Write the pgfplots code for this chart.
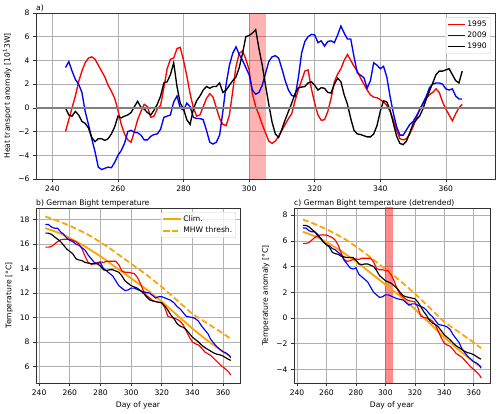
\documentclass[border=0pt]{standalone}
\usepackage{fontspec}
\setmainfont{DejaVu Sans}
\usepackage{pgfplots}
\pgfplotsset{compat=1.18}
\usepackage{pgfplotstable}
\definecolor{mplorange}{RGB}{255,165,0}
\definecolor{gridc}{RGB}{176,176,176}
\definecolor{spine}{RGB}{50,50,50}
\definecolor{zeroc}{RGB}{128,128,128}

\pgfplotstableread{
d r b k
244 -2.0 3.4 0.0
245 -1.0 3.9 -0.6
246 0.0 3.1 -0.7
247 1.0 2.4 -0.3
248 2.2 2.0 -0.6
249 3.1 1.3 -1.15
250 3.8 -0.3 -1.3
251 4.2 -1.4 -1.7
252 4.3 -2.6 -2.5
253 4.1 -3.7 -2.85
254 3.6 -5.0 -2.6
255 3.1 -5.2 -2.6
256 2.6 -5.1 -2.75
257 1.9 -5.0 -2.6
258 1.4 -5.05 -2.2
259 0.8 -4.6 -1.6
260 -0.2 -4.0 -0.7
261 -1.4 -3.6 -0.85
262 -2.2 -3.0 -0.7
263 -2.7 -2.0 -0.6
264 -2.9 -1.9 -0.4
265 -2.0 -2.05 0.1
266 -1.0 -2.1 0.55
267 -0.3 -2.3 0.05
268 0.3 -2.7 -0.1
269 0.1 -2.7 -0.4
270 -0.8 -2.4 -0.6
271 -0.7 -2.25 -0.2
272 -0.1 -2.2 0.3
273 0.2 -1.8 1.0
274 1.7 -0.8 2.1
275 3.3 -0.7 2.2
276 4.1 -0.6 2.8
277 4.2 0.5 3.8
278 5.0 1.0 1.8
279 5.1 0.0 0.4
280 4.0 -0.2 -0.1
281 2.7 0.4 -1.0
282 1.2 0.1 -1.4
283 0.0 -0.8 -0.1
284 -0.7 -0.9 0.6
285 -0.6 -0.9 1.0
286 0.1 -1.0 1.5
287 0.8 -1.9 1.8
288 1.2 -2.9 1.65
289 0.9 -3.05 1.8
290 0.0 -2.9 1.8
291 -0.9 -2.3 2.1
292 -1.4 -0.3 1.3
293 -1.5 2.0 1.5
294 -0.6 3.6 1.9
295 1.4 4.6 2.3
296 3.5 5.15 2.6
297 4.6 4.5 3.4
298 4.8 4.0 4.6
299 4.1 3.4 6.0
300 3.2 2.8 6.1
301 1.2 1.5 6.3
302 0.1 1.15 6.6
303 -0.6 1.3 5.0
304 -1.4 1.9 3.6
305 -2.1 2.9 1.9
306 -2.8 3.9 0.3
307 -3.0 4.3 -1.2
308 -2.8 4.4 -2.2
309 -2.4 4.2 -2.5
310 -1.9 3.3 -1.8
311 -1.4 2.3 -1.0
312 -0.9 1.5 -0.3
313 -0.5 1.05 0.4
314 0.6 0.95 1.2
315 1.5 2.5 1.7
316 2.3 4.6 1.75
317 3.1 5.6 1.8
318 3.2 6.0 2.1
319 1.6 6.2 2.2
320 0.4 6.15 1.9
321 -0.6 5.5 1.5
322 -1.05 5.65 1.7
323 -1.0 5.2 1.65
324 -0.3 5.6 1.3
325 0.8 5.65 1.25
326 2.2 5.5 2.0
327 2.85 6.15 2.5
328 3.3 6.9 2.2
329 4.0 6.3 1.1
330 4.5 5.8 0.3
331 4.0 5.8 -0.9
332 3.5 4.3 -1.9
333 3.1 2.95 -2.2
334 2.5 2.75 -2.25
335 2.0 2.55 -2.35
336 1.5 1.65 -2.45
337 1.1 2.3 -2.45
338 0.9 3.8 -2.2
339 0.85 3.6 -1.5
340 0.7 3.3 -0.3
341 0.5 3.5 0.6
342 0.2 2.6 0.5
343 -0.3 0.95 -0.2
344 -1.0 -0.45 -1.3
345 -1.9 -1.6 -2.4
346 -2.6 -2.3 -3.0
347 -2.7 -2.3 -3.1
348 -2.6 -1.85 -2.8
349 -2.2 -1.4 -2.1
350 -1.6 -1.15 -1.35
351 -0.9 -0.7 -1.0
352 -0.1 -0.2 -0.7
353 0.3 0.4 -0.1
354 0.8 0.95 0.7
355 1.1 1.7 1.4
356 1.3 2.0 2.1
357 1.6 2.1 2.8
358 1.3 2.1 3.1
359 0.5 2.0 3.1
360 -0.1 1.6 3.2
361 -0.6 1.5 3.3
362 -1.1 1.6 2.8
363 -0.5 1.0 2.3
364 0.0 0.75 2.1
365 0.3 0.75 3.1
}\heat

\pgfplotstableread{
d r b k
244 15.75 17.6 16.9
246 15.75 17.6 16.9
248 15.8 17.4 16.8
250 16.0 17.3 16.6
252 16.2 17.3 16.4
254 16.35 17.0 16.2
256 16.4 16.8 15.9
258 16.4 16.5 15.6
260 16.4 16.3 15.4
262 16.3 16.2 15.2
264 16.2 16.0 14.8
266 16.0 15.9 14.7
268 15.6 15.7 14.65
270 15.0 15.5 14.5
272 14.5 15.1 14.45
274 14.35 14.8 14.4
276 14.4 14.5 14.4
278 14.5 14.4 14.4
280 14.55 14.5 14.2
282 14.5 14.0 13.9
284 14.6 13.8 13.85
286 14.6 13.6 13.9
288 14.6 13.4 13.9
290 14.6 13.0 13.8
292 14.3 12.6 13.7
294 13.8 12.4 13.4
296 13.7 12.2 13.0
298 13.7 12.25 12.8
300 13.65 12.4 12.6
302 13.6 12.4 12.5
304 13.3 12.3 12.4
306 12.8 12.2 12.2
308 12.2 12.1 12.0
310 11.8 12.05 11.7
312 11.6 12.0 11.45
314 11.4 11.8 11.35
316 11.3 11.6 11.3
318 11.25 11.7 11.25
320 11.2 11.7 11.2
322 10.8 11.6 10.95
324 10.1 11.5 10.6
326 10.0 11.4 10.2
328 9.95 11.2 9.9
330 9.85 10.9 9.5
332 9.7 10.7 9.3
334 9.4 10.4 9.2
336 8.9 10.1 9.0
338 8.4 10.05 8.7
340 8.0 10.0 8.4
342 7.85 9.9 8.2
344 7.75 9.7 8.0
346 7.5 9.3 7.75
348 7.2 9.0 7.55
350 7.05 8.7 7.4
352 6.9 8.2 7.25
354 6.65 7.9 7.1
356 6.4 7.6 7.0
358 6.15 7.4 6.95
360 5.95 7.2 6.85
362 5.75 7.1 6.7
364 5.5 6.9 6.55
365 5.3 6.7 6.5
}\tempb

\pgfplotstableread{
d r b k
244 5.80 7.00 7.20
246 5.80 7.00 7.20
248 5.85 6.80 7.10
250 6.05 6.70 6.90
252 6.25 6.70 6.70
254 6.40 6.40 6.50
256 6.45 6.20 6.20
258 6.45 5.90 5.90
260 6.45 5.70 5.70
262 6.35 5.60 5.50
264 6.25 5.40 5.10
266 6.05 5.30 5.00
268 5.65 5.10 4.95
270 5.05 4.90 4.80
272 4.55 4.50 4.75
274 4.40 4.20 4.70
276 4.45 3.90 4.70
278 4.55 3.80 4.70
280 4.60 3.90 4.50
282 4.55 3.40 4.20
284 4.65 3.20 4.15
286 4.65 3.00 4.20
288 4.65 2.80 4.20
290 4.65 2.40 4.10
292 4.35 2.00 4.00
294 3.85 1.80 3.70
296 3.75 1.60 3.30
298 3.75 1.65 3.10
300 3.70 1.80 2.90
302 3.65 1.80 2.80
304 3.35 1.70 2.70
306 2.85 1.60 2.50
308 2.25 1.50 2.30
310 1.85 1.45 2.00
312 1.65 1.40 1.75
314 1.45 1.20 1.65
316 1.35 1.00 1.60
318 1.30 1.10 1.55
320 1.25 1.10 1.50
322 0.85 1.00 1.25
324 0.15 0.90 0.90
326 0.05 0.80 0.50
328 0.00 0.60 0.20
330 -0.10 0.30 -0.20
332 -0.25 0.10 -0.40
334 -0.55 -0.20 -0.50
336 -1.05 -0.50 -0.70
338 -1.55 -0.55 -1.00
340 -1.95 -0.60 -1.30
342 -2.10 -0.70 -1.50
344 -2.20 -0.90 -1.70
346 -2.45 -1.30 -1.95
348 -2.75 -1.60 -2.15
350 -2.90 -1.90 -2.30
352 -3.05 -2.40 -2.45
354 -3.30 -2.70 -2.60
356 -3.55 -3.00 -2.70
358 -3.80 -3.20 -2.75
360 -4.00 -3.40 -2.85
362 -4.20 -3.50 -3.00
364 -4.45 -3.70 -3.15
365 -4.65 -3.90 -3.20
}\tempc

\pgfplotstableread{
d clim thr climc thrc
244 17.3 18.25 6.7 7.65
250 17.05 18.0 6.45 7.4
255 16.8 17.75 6.2 7.15
260 16.5 17.5 5.9 6.9
265 16.15 17.2 5.55 6.6
270 15.8 16.9 5.2 6.3
275 15.4 16.55 4.8 5.95
280 15.0 16.15 4.4 5.55
285 14.55 15.75 3.95 5.15
290 14.1 15.3 3.5 4.7
295 13.65 14.85 3.05 4.25
300 13.2 14.4 2.6 3.8
305 12.75 13.95 2.15 3.35
310 12.3 13.5 1.7 2.9
315 11.8 13.0 1.2 2.4
320 11.3 12.5 0.7 1.9
325 10.75 11.95 0.15 1.35
330 10.2 11.4 -0.4 0.8
335 9.65 10.85 -0.95 0.25
340 9.1 10.3 -1.5 -0.3
345 8.6 9.9 -2.0 -0.7
350 8.1 9.5 -2.5 -1.1
355 7.65 9.1 -2.95 -1.5
360 7.2 8.7 -3.4 -1.9
365 6.8 8.25 -3.8 -2.35
}\climtab

\newcommand{\fs}{\fontsize{7.6}{9}\selectfont}
\pgfplotsset{
  mystyle/.style={
    scale only axis,
    anchor=south west,
    font=\fs,
    tick label style={font=\fs},
    label style={font=\fs},
    /pgf/number format/assume math mode=true,
    axis line style={spine, line width=0.7pt},
    tick style={spine, line width=0.6pt},
    tick align=outside,
    major tick length=3pt,
    xtick pos=lower, ytick pos=left,
    grid=major,
    major grid style={gridc, line width=0.6pt},
    title style={at={(0,1)}, anchor=south west, inner sep=0pt, yshift=-5pt, font=\fs},
    legend style={draw=gray!35, rounded corners=1.5pt, fill=white, fill opacity=0.8, text opacity=1, draw opacity=1, font=\fs, inner sep=1.5pt},
    legend cell align=left,
    xtick={240,260,...,360},
  }
}

\begin{document}
\begin{tikzpicture}[x=1pt,y=1pt]
\path[use as bounding box] (0,0) rectangle (500,414);

\begin{axis}[mystyle, at={(36pt,235pt)}, width=459pt, height=166pt,
  xmin=235, xmax=375, ymin=-6, ymax=8,
  ytick={-6,-4,...,8}, yticklabels={−6,−4,−2,0,2,4,6,8},
  ylabel={Heat transport anomaly [10\textsuperscript{1}3W]},
  title={a)},
  legend style={at={(0.99,0.975)}, anchor=north east}]
\addplot[draw=none, fill=red, fill opacity=0.3, forget plot] coordinates {(300,-6) (300,8) (305,8) (305,-6)} -- cycle;
\addplot[red, line width=1.35pt] table[x=d, y=r] {\heat};
\addplot[blue, line width=1.35pt] table[x=d, y=b] {\heat};
\addplot[black, line width=1.35pt] table[x=d, y=k] {\heat};
\addplot[zeroc, line width=1.8pt, forget plot] coordinates {(230,0) (380,0)};
\legend{1995,2009,1990}
\end{axis}

\begin{axis}[mystyle, at={(36pt,31pt)}, width=204pt, height=175pt,
  xmin=237.95, xmax=371.05, ymin=4.65, ymax=18.95,
  ytick={6,8,...,18},
  xlabel={Day of year}, ylabel={Temperature [°C]},
  title={b) German Bight temperature},
  legend style={at={(0.98,0.977)}, anchor=north east}]
\addplot[mplorange, line width=1.8pt, smooth] table[x=d, y=clim] {\climtab};
\addplot[mplorange, line width=1.8pt, smooth, dash pattern=on 6pt off 3pt] table[x=d, y=thr] {\climtab};
\addplot[red, line width=1.15pt, forget plot] table[x=d, y=r] {\tempb};
\addplot[blue, line width=1.15pt, forget plot] table[x=d, y=b] {\tempb};
\addplot[black, line width=1.15pt, forget plot] table[x=d, y=k] {\tempb};
\legend{Clim.,MHW thresh.}
\end{axis}

\begin{axis}[mystyle, at={(294pt,31pt)}, width=196pt, height=175pt,
  xmin=237.95, xmax=371.05, ymin=-5.05, ymax=8.55,
  ytick={-4,-2,...,8}, yticklabels={−4,−2,0,2,4,6,8},
  xlabel={Day of year}, ylabel={Temperature anomaly [°C]},
  title={c) German Bight temperature (detrended)}]
\addplot[draw=none, fill=red, fill opacity=0.45] coordinates {(300,-6) (300,9) (305,9) (305,-6)} -- cycle;
\addplot[mplorange, line width=1.8pt, smooth] table[x=d, y=climc] {\climtab};
\addplot[mplorange, line width=1.8pt, smooth, dash pattern=on 6pt off 3pt] table[x=d, y=thrc] {\climtab};
\addplot[red, line width=1.15pt] table[x=d, y=r] {\tempc};
\addplot[blue, line width=1.15pt] table[x=d, y=b] {\tempc};
\addplot[black, line width=1.15pt] table[x=d, y=k] {\tempc};
\end{axis}
\end{tikzpicture}
\end{document}
